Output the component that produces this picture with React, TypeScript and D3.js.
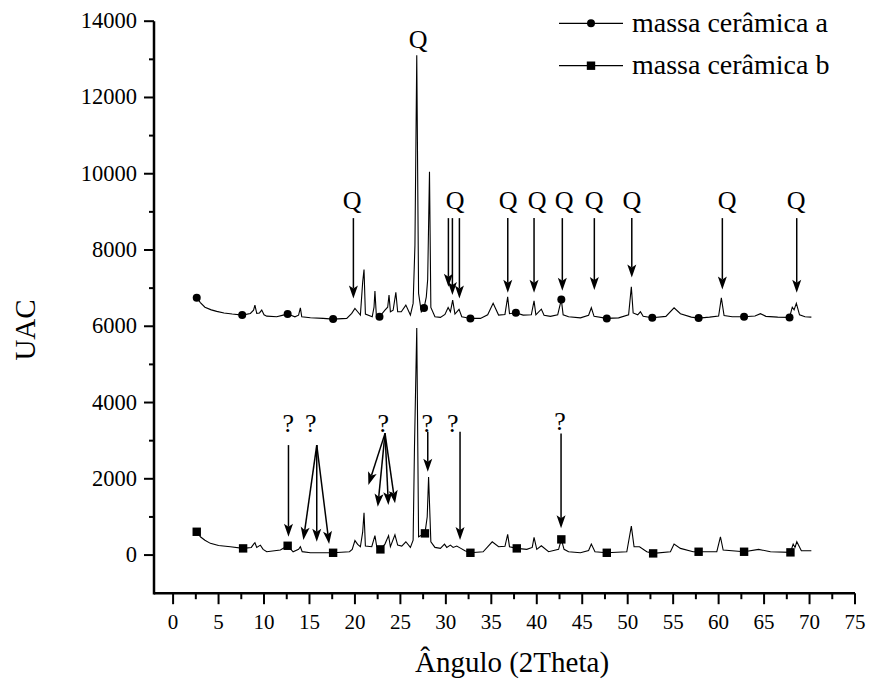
import React from "react";
import * as d3 from "d3";

// ---------- data ----------
const xTicks = [0, 5, 10, 15, 20, 25, 30, 35, 40, 45, 50, 55, 60, 65, 70, 75];
const yTicks = [0, 2000, 4000, 6000, 8000, 10000, 12000, 14000];
const seriesNames = ["massa cerâmica a", "massa cerâmica b"];

const angleA = [
  2.6, 3.0, 3.5, 4.2, 4.8, 5.6, 6.5, 7.6, 8.5, 8.85, 9.0, 9.2, 9.5, 9.75, 10.0, 10.3, 11.4, 12.1, 12.6, 13.4, 13.8, 14.0, 14.15,
  15.1, 16.5, 17.6, 19.1, 19.65, 20.0, 20.3, 20.6, 20.85, 21.0, 21.15, 21.9, 22.1, 22.2, 22.35, 22.7, 23.3, 23.6,
  23.75, 23.9, 24.2, 24.5, 24.7, 25.1, 25.6, 26.1, 26.4, 26.6, 26.8, 27.0, 27.3, 27.6, 27.85, 28.0, 28.2, 28.35,
  28.8, 29.4, 29.9, 30.25, 30.5, 30.75, 31.0, 31.45, 31.75, 32.3, 32.7, 33.8, 34.6, 35.2, 35.8, 36.5, 36.8, 37.0,
  37.7, 38.5, 39.4, 39.7, 39.9, 40.5, 40.8, 41.5, 42.3, 42.7, 42.9, 43.5, 44.8, 45.7, 46.0, 46.3, 47.7, 49.0,
  50.1, 50.4, 50.6, 51.1, 51.4, 51.7, 52.7, 54.2, 55.1, 55.8, 57.0, 57.8, 59.0, 60.0, 60.3, 60.6, 61.5, 62.8,
  64.0, 64.6, 65.2, 66.5, 67.8, 68.1, 68.3, 68.55, 68.9, 69.5, 70.2,
];
const countsA = [
  6750, 6620, 6500, 6430, 6390, 6350, 6320, 6293, 6337, 6420, 6555, 6337, 6350, 6424, 6300, 6266, 6248, 6293, 6319, 6248, 6290, 6484, 6248,
  6222, 6206, 6188, 6206, 6337, 6468, 6380, 6293, 7150, 7490, 6320, 6248, 6500, 6922, 6300, 6248, 6424, 6500,
  6817, 6380, 6420, 6888, 6380, 6380, 6555, 6293, 6600, 8128, 13110, 6862, 6380, 6476, 6772, 7228, 10050, 6494,
  6248, 6232, 6310, 6494, 6380, 6686, 6319, 6442, 6248, 6222, 6206, 6206, 6300, 6600, 6293, 6310, 6772, 6330,
  6353, 6293, 6300, 6667, 6300, 6450, 6290, 6260, 6300, 6700, 6300, 6250, 6220, 6290, 6484, 6260, 6206, 6220,
  6300, 7035, 6350, 6300, 6380, 6260, 6222, 6260, 6484, 6330, 6240, 6214, 6240, 6270, 6746, 6280, 6250, 6248,
  6270, 6330, 6260, 6240, 6232, 6500, 6430, 6600, 6300, 6250, 6240,
];

const angleB = [
  2.6, 3.0, 3.5, 4.1, 5.0, 6.3, 7.7, 8.6, 8.9, 9.0, 9.2, 9.6, 9.9, 10.3, 11.8, 12.6, 13.2, 13.8, 14.0, 14.2, 15.1, 16.5, 17.6,
  19.4, 19.7, 20.0, 20.3, 20.6, 20.85, 21.0, 21.15, 21.85, 22.2, 22.4, 22.8, 23.3, 23.7, 23.9, 24.4, 24.7, 25.15,
  25.6, 26.1, 26.4, 26.55, 26.8, 27.0, 27.7, 27.95, 28.1, 28.35, 28.8, 29.4, 29.85, 30.1, 30.5, 30.8, 31.2, 31.65,
  32.1, 32.7, 34.1, 35.1, 35.8, 36.5, 36.8, 37.0, 37.8, 38.9, 39.5, 39.7, 40.0, 40.5, 41.3, 42.4, 42.7, 43.0,
  43.5, 44.8, 45.7, 46.0, 46.4, 47.7, 49.9, 50.4, 50.7, 51.3, 52.1, 52.8, 54.7, 55.1, 55.8, 57.2, 57.8, 59.8,
  60.2, 60.5, 62.8, 64.4, 65.7, 67.9, 68.2, 68.4, 68.6, 69.1, 70.2,
];
const countsB = [
  611, 480, 390, 307, 250, 218, 175, 200, 300, 322, 200, 260, 150, 87, 131, 244, 87, 150, 218, 90, 60, 60, 60,
  87, 150, 380, 280, 218, 600, 1109, 236, 218, 510, 218, 149, 288, 510, 218, 530, 262, 236,
  349, 201, 393, 2840, 5952, 480, 569, 1004, 2045, 349, 201, 175, 288, 201, 262, 201, 236, 175,
  113, 60, 87, 349, 218, 230, 542, 220, 175, 149, 200, 463, 149, 244, 87, 150, 411, 150,
  87, 60, 120, 288, 87, 60, 87, 760, 218, 218, 87, 44, 87, 288, 175, 87, 87, 87,
  480, 131, 87, 149, 87, 71, 288, 200, 349, 113, 113,
];

const markerAnglesA = [2.6, 7.6, 12.6, 17.6, 22.7, 27.6, 32.7, 37.7, 42.7, 47.7, 52.7, 57.8, 62.8, 67.8];
const markerAnglesB = [2.6, 7.7, 12.6, 17.6, 22.8, 27.7, 32.7, 37.8, 42.7, 47.7, 52.8, 57.8, 62.8, 67.9];

// annotation labels (angle of label centre, count at baseline)
const qLabelAngles = [19.69, 26.94, 31.01, 36.84, 40.03, 43.0, 46.3, 50.46, 60.93, 68.52];
const qLabelCounts = [9072, 13285, 9072, 9072, 9072, 9072, 9072, 9072, 9072, 9072];
const unkLabelAngles = [12.68, 15.14, 23.13, 27.96, 30.76, 42.56];
const unkLabelCounts = [3233, 3233, 3233, 3233, 3233, 3270];

// arrows: from (angle, count) to tip (angle, count)
const arrowFromAngle = [19.83, 30.28, 30.72, 31.49, 36.81, 39.7, 42.81, 46.33, 50.45, 60.41, 68.59,
  12.69, 15.8, 15.8, 15.8, 23.31, 23.31, 23.31, 23.31, 28.01, 31.56, 42.67];
const arrowFromCount = [8836, 8836, 8836, 8836, 8836, 8836, 8836, 8836, 8836, 8836, 8836,
  2884, 2884, 2884, 2884, 3191, 3191, 3191, 3191, 3233, 3233, 3191];
const arrowToAngle = [19.83, 30.28, 30.72, 31.49, 36.81, 39.7, 42.81, 46.33, 50.45, 60.41, 68.59,
  12.69, 14.33, 15.8, 17.16, 21.48, 22.51, 23.68, 24.41, 28.01, 31.56, 42.67];
const arrowToCount = [6730, 7035, 6817, 6730, 6877, 6877, 6930, 6948, 7281, 6966, 6877,
  480, 393, 349, 288, 1835, 1266, 1311, 1356, 2184, 393, 700];

// ---------- chart ----------
const W = 871;
const H = 682;
const FONT = "'Liberation Serif', 'Times New Roman', serif";

export default function App() {
  const x = d3.scaleLinear().domain([-2.1, 75]).range([154, 855]);
  const y = d3.scaleLinear().domain([-1000, 14000]).range([593.2, 21.2]);

  const pathFor = (ax: number[], cy: number[]) =>
    d3
      .line<number>()
      .x((i) => x(ax[i]))
      .y((i) => y(cy[i]))(ax.map((_, i) => i)) || "";

  const markerPts = (markers: number[], ax: number[], cy: number[]) =>
    markers.map((m) => {
      let best = 0;
      ax.forEach((a, i) => {
        if (Math.abs(a - m) < Math.abs(ax[best] - m)) best = i;
      });
      return [x(ax[best]), y(cy[best])];
    });

  const mA = markerPts(markerAnglesA, angleA, countsA);
  const mB = markerPts(markerAnglesB, angleB, countsB);

  const xMinor = d3.range(2.5, 75, 5);
  const yMinor = d3.range(-1000, 14000, 2000).filter((v) => v > -1000);

  const arrows = arrowFromAngle.map((_, i) => {
    const x1 = x(arrowFromAngle[i]);
    const y1 = y(arrowFromCount[i]);
    const x2 = x(arrowToAngle[i]);
    const y2 = y(arrowToCount[i]);
    const dx = x2 - x1;
    const dy = y2 - y1;
    const len = Math.hypot(dx, dy);
    const ux = dx / len;
    const uy = dy / len;
    const hl = 13;
    const hw = 4.5;
    const bx = x2 - ux * hl;
    const by = y2 - uy * hl;
    const head = `M${x2},${y2} L${bx - uy * hw},${by + ux * hw} L${x2 - ux * (hl - 3)},${y2 - uy * (hl - 3)} L${bx + uy * hw},${by - ux * hw} Z`;
    return { x1, y1, lx: x2 - ux * (hl - 3), ly: y2 - uy * (hl - 3), head };
  });

  return (
    <svg
      width={W}
      height={H}
      style={{ position: "absolute", left: 0, top: 0, background: "#fff" }}
      fontFamily={FONT}
    >
      <rect width={W} height={H} fill="#fff" />

      {/* series */}
      <path d={pathFor(angleA, countsA)} fill="none" stroke="#000" strokeWidth={1.1} />
      <path d={pathFor(angleB, countsB)} fill="none" stroke="#000" strokeWidth={1.1} />
      {mA.map(([px, py], i) => (
        <circle key={"ma" + i} cx={px} cy={py} r={4} fill="#000" />
      ))}
      {mB.map(([px, py], i) => (
        <rect key={"mb" + i} x={px - 4.2} y={py - 4.2} width={8.4} height={8.4} fill="#000" />
      ))}

      {/* arrows */}
      {arrows.map((a, i) => (
        <g key={"ar" + i}>
          <line x1={a.x1} y1={a.y1} x2={a.lx} y2={a.ly} stroke="#000" strokeWidth={1.5} />
          <path d={a.head} fill="#000" />
        </g>
      ))}

      {/* labels */}
      {qLabelAngles.map((a, i) => (
        <text key={"q" + i} x={x(a)} y={y(qLabelCounts[i])} fontSize={26} textAnchor="middle" fill="#000">
          Q
        </text>
      ))}
      {unkLabelAngles.map((a, i) => (
        <text key={"u" + i} x={x(a)} y={y(unkLabelCounts[i])} fontSize={26} textAnchor="middle" fill="#000">
          ?
        </text>
      ))}

      {/* axes */}
      <line x1={x(-2.1)} y1={y(-1000)} x2={x(75)} y2={y(-1000)} stroke="#000" strokeWidth={2.5} />
      <line x1={x(-2.1)} y1={y(-1000) + 1.2} x2={x(-2.1)} y2={y(14000)} stroke="#000" strokeWidth={2.5} />
      {xTicks.map((t) => (
        <g key={"xt" + t}>
          <line x1={x(t)} y1={y(-1000)} x2={x(t)} y2={y(-1000) + 11} stroke="#000" strokeWidth={2} />
          <text x={x(t)} y={y(-1000) + 36} fontSize={21} textAnchor="middle" fill="#000">
            {t}
          </text>
        </g>
      ))}
      {xMinor.map((t) => (
        <line key={"xm" + t} x1={x(t)} y1={y(-1000)} x2={x(t)} y2={y(-1000) + 6} stroke="#000" strokeWidth={2} />
      ))}
      {yTicks.map((t) => (
        <g key={"yt" + t}>
          <line x1={x(-2.1)} y1={y(t)} x2={x(-2.1) - 10} y2={y(t)} stroke="#000" strokeWidth={2} />
          <text x={x(-2.1) - 17} y={y(t) + 7} fontSize={22.5} textAnchor="end" fill="#000">
            {t}
          </text>
        </g>
      ))}
      {yMinor.map((t) => (
        <line key={"ym" + t} x1={x(-2.1)} y1={y(t)} x2={x(-2.1) - 5} y2={y(t)} stroke="#000" strokeWidth={2} />
      ))}

      {/* axis titles */}
      <text x={512} y={672} fontSize={29} textAnchor="middle" fill="#000">
        Ângulo (2Theta)
      </text>
      <text transform={`translate(35,330) rotate(-90)`} fontSize={29} textAnchor="middle" fill="#000">
        UAC
      </text>

      {/* legend */}
      <line x1={559} y1={23.3} x2={623} y2={23.3} stroke="#000" strokeWidth={1.2} />
      <circle cx={591} cy={23.3} r={4} fill="#000" />
      <text x={632} y={31.7} fontSize={28} fill="#000">
        {seriesNames[0]}
      </text>
      <line x1={559} y1={65.7} x2={623} y2={65.7} stroke="#000" strokeWidth={1.2} />
      <rect x={591 - 4.2} y={65.7 - 4.2} width={8.4} height={8.4} fill="#000" />
      <text x={632} y={74} fontSize={28} fill="#000">
        {seriesNames[1]}
      </text>
    </svg>
  );
}
